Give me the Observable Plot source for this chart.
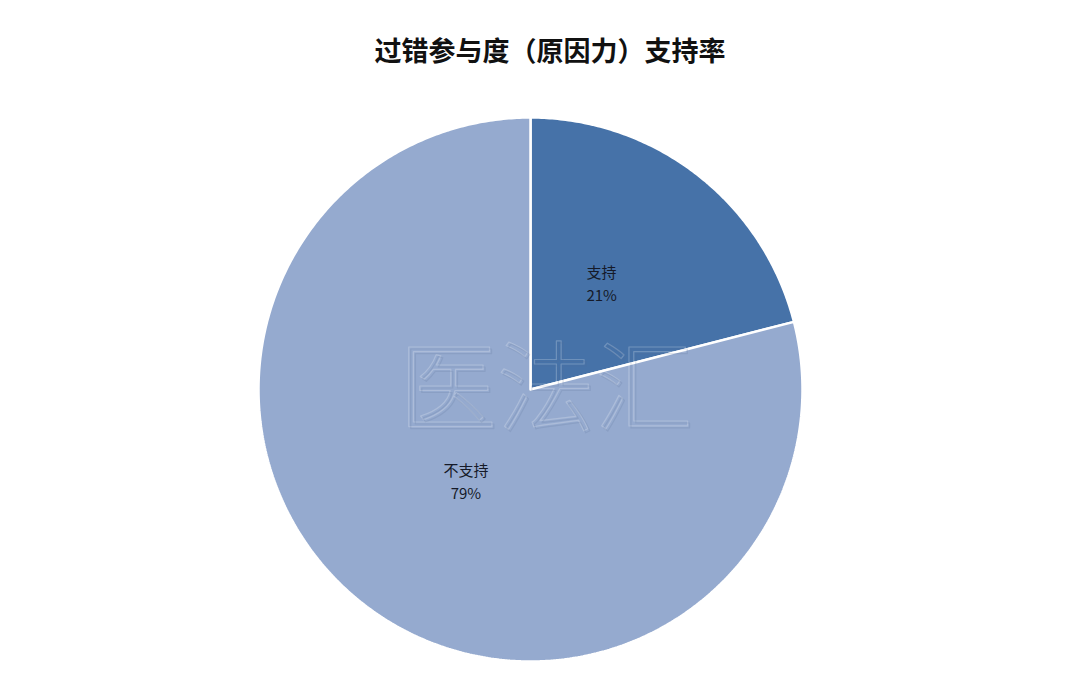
<!DOCTYPE html>
<html>
<head>
<meta charset="utf-8">
<script src="https://cdn.jsdelivr.net/npm/d3@7"></script>
<script src="https://cdn.jsdelivr.net/npm/@observablehq/plot@0.6"></script>
<style>
  html, body { margin: 0; padding: 0; background: #fff; }
  #wrap { width: 1080px; height: 693px; position: relative; overflow: hidden; }
  #title { height: 90px; width: 1080px; box-sizing: border-box; padding-top: 30px; padding-left: 20px;
           text-align: center; font-family: "Noto Sans CJK SC", "Noto Sans", sans-serif; font-weight: 700;
           font-size: 27px; line-height: 40px; color: #111; }
  #chart svg { display: block; }
</style>
</head>
<body>
<div id="wrap">
  <div id="title">过错参与度（原因力）支持率</div>
  <div id="chart"></div>
</div>
<script>
const categories = ["支持", "不支持"];
const values = [21, 79];
const colors = ["#4672A8", "#95AACF"];
const watermark = "医法汇";

const total = d3.sum(values);
const pie = d3.pie().sort(null).value(d => d.value)(categories.map((c, i) => ({cat: c, value: values[i]})));

// polygon vertices for each slice (angle clockwise from top)
const slicePts = [];
pie.forEach(s => {
  const n = Math.max(8, Math.ceil((s.endAngle - s.startAngle) / 0.01));
  slicePts.push({cat: s.data.cat, x: 0, y: 0});
  for (let k = 0; k <= n; k++) {
    const a = s.startAngle + (s.endAngle - s.startAngle) * k / n;
    slicePts.push({cat: s.data.cat, x: Math.sin(a), y: Math.cos(a)});
  }
  slicePts.push({cat: s.data.cat, x: 0, y: 0});
});

const labelFrac = [0.5, 0.42];
const labelShift = [-0.045, 0.02];
const labels = pie.map((s, i) => {
  const a = (s.startAngle + s.endAngle) / 2;
  return {
    x: Math.sin(a) * labelFrac[i] + labelShift[i], y: Math.cos(a) * labelFrac[i],
    text: s.data.cat + "\n" + Math.round(s.data.value / total * 100) + "%"
  };
});

const chart = Plot.plot({
  width: 1080,
  height: 603,
  marginLeft: 258,
  marginRight: 278,
  marginTop: 27,
  marginBottom: 32,
  x: {domain: [-1, 1], axis: null},
  y: {domain: [-1, 1], axis: null},
  color: {domain: categories, range: colors},
  marks: [
    Plot.line(slicePts, {x: "x", y: "y", z: "cat", fill: "cat", stroke: "white", strokeWidth: 2.5, strokeLinejoin: "miter", curve: "linear"}),
    Plot.text([watermark], {x: [0.06], y: [-0.01], text: d => d, fontSize: 98, fontWeight: 300,
      fill: "none", stroke: "#ffffff", strokeOpacity: 0.22, strokeWidth: 1.2, dx: -1, dy: -1,
      fontFamily: "Noto Sans CJK SC", style: "letter-spacing: 12px"}),
    Plot.text([watermark], {x: [0.06], y: [-0.01], text: d => d, fontSize: 98, fontWeight: 300,
      fill: "none", stroke: "#5a6f96", strokeOpacity: 0.18, strokeWidth: 1.2, dx: 1, dy: 1,
      fontFamily: "Noto Sans CJK SC", style: "letter-spacing: 12px"}),
    Plot.text(labels, {x: "x", y: "y", text: "text", fontSize: 15, lineHeight: 1.55, fill: "#151a28",
      fontFamily: "Noto Sans CJK SC"})
  ]
});
document.getElementById("chart").appendChild(chart);
</script>
</body>
</html>
